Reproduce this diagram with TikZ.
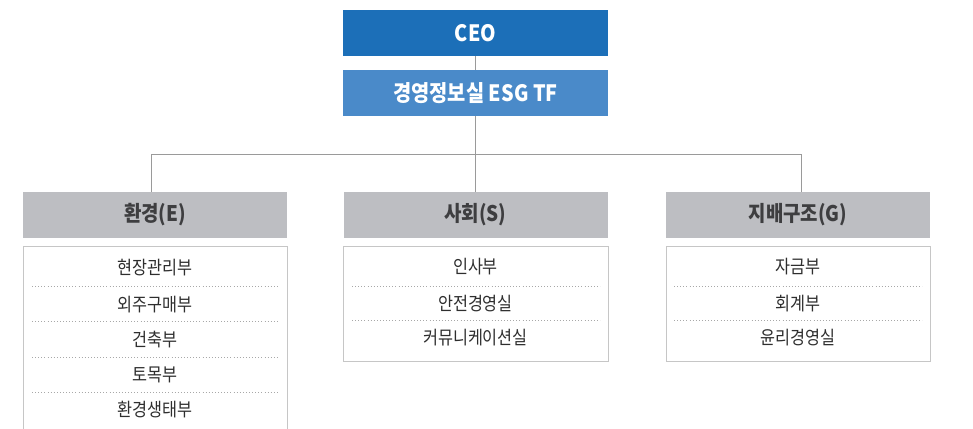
\documentclass[tikz,border=0pt]{standalone}
\usepackage{fontspec}
\setmainfont{Noto Sans CJK KR}
\newfontfamily\condfont[FakeStretch=0.88]{Noto Sans CJK KR}
\definecolor{ceoblue}{HTML}{1C6FB8}
\definecolor{esgblue}{HTML}{4A8AC9}
\definecolor{hdrgray}{HTML}{BDBEC2}
\definecolor{hdrtext}{HTML}{3E3E40}
\definecolor{boxline}{HTML}{C6C6C6}
\definecolor{dotgray}{HTML}{A8A8A8}
\definecolor{conn}{HTML}{9A9A9A}
\definecolor{itemtext}{HTML}{2E2E2E}
\tikzset{
  topbox/.style={rectangle, minimum width=265pt, minimum height=46pt, inner sep=0pt, text=white, font=\condfont\fontsize{22.5}{24}\selectfont\bfseries},
  grouphdr/.style={rectangle, fill=hdrgray, minimum width=264pt, minimum height=46pt, inner sep=0pt, text=hdrtext, font=\condfont\fontsize{21.5}{23}\selectfont\bfseries},
  listbox/.style={rectangle, draw=boxline, line width=0.9pt, inner sep=0pt},
  item/.style={inner sep=0pt, text=itemtext, font=\condfont\fontsize{18.5}{20}\selectfont},
  sep/.style={draw=dotgray, line width=0.9pt, dash pattern=on 0.9pt off 2.2pt},
  connector/.style={draw=conn, line width=1pt}
}
\begin{document}
\begin{tikzpicture}[x=1pt,y=-1pt]
\useasboundingbox (0,0) rectangle (973,428);
\clip (0,0) rectangle (973,428);
\node[topbox, fill=ceoblue] (ceo) at (475.5,33) {CEO};
\node[topbox, fill=esgblue] (esg) at (475.5,93) {경영정보실 ESG TF};
\node[grouphdr] (eh) at (155,215) {환경(E)};
\node[grouphdr] (sh) at (475.5,215) {사회(S)};
\node[grouphdr] (gh) at (798,215) {지배구조(G)};
\coordinate (bus) at (475.5,154.5);
% connectors
\draw[connector] (ceo.south) -- (esg.north);
\draw[connector] (esg.south) -- (sh.north);
\draw[connector] ([xshift=-4pt]eh.north) |- (bus) -| ([xshift=3pt]gh.north);
% list boxes
\node[listbox, minimum width=264pt, minimum height=200pt, anchor=north] (el) at (155,246) {};
\node[listbox, minimum width=265pt, minimum height=115pt, anchor=north] (sl) at (475.5,246) {};
\node[listbox, minimum width=264pt, minimum height=115pt, anchor=north] (gl) at (798,246) {};
% E items
\node[item] (e1) at (155,268) {현장관리부};
\node[item] (e2) at (155,305) {외주구매부};
\node[item] (e3) at (155,340) {건축부};
\node[item] (e4) at (155,375) {토목부};
\node[item] (e5) at (155,410) {환경생태부};
\foreach \y in {286,321,357,392} \draw[sep] (32,\y) -- (279,\y);
% S items
\node[item] (s1) at (475.5,267) {인사부};
\node[item] (s2) at (475.5,304) {안전경영실};
\node[item] (s3) at (475.5,338) {커뮤니케이션실};
\foreach \y in {286,320} \draw[sep] (352,\y) -- (600,\y);
% G items
\node[item] (g1) at (798,267) {자금부};
\node[item] (g2) at (798,304) {회계부};
\node[item] (g3) at (798,338) {윤리경영실};
\foreach \y in {286,320} \draw[sep] (674,\y) -- (922,\y);
\end{tikzpicture}
\end{document}
